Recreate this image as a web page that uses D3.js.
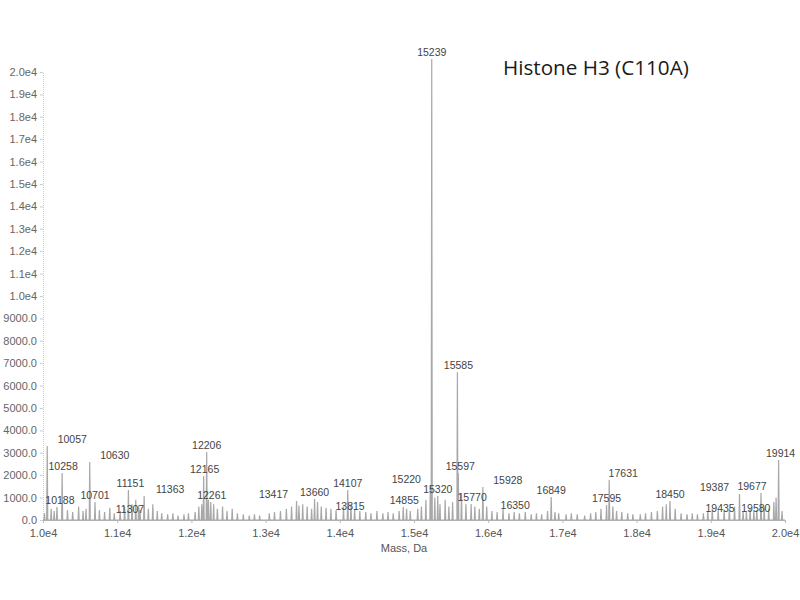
<!DOCTYPE html>
<html>
<head>
<script src="https://cdnjs.cloudflare.com/ajax/libs/d3/7.8.5/d3.min.js"></script>
<style>
  body { margin: 0; background: #fff; }
  svg text { font-family: Arial, "Liberation Sans", sans-serif; }
</style>
</head>
<body>
<div id="chart"></div>
<script>
// labelled peaks: mass (Da) and intensity (counts)
const peakMass = [10057, 10188, 10258, 10630, 10701, 11151, 11307, 11363, 12165, 12206, 12261,
  13417, 13660, 13815, 14107, 14855, 15220, 15239, 15320, 15585, 15597, 15770, 15928, 16350,
  16849, 17595, 17631, 18450, 19387, 19435, 19580, 19677, 19914];
const peakIntensity = [3300, 580, 2100, 2590, 800, 1340, 450, 1070, 1960, 3040, 800,
  850, 940, 550, 1340, 580, 1520, 20580, 1070, 6600, 2100, 710, 1470, 360,
  1030, 670, 1790, 850, 1160, 400, 400, 1200, 2680];

// label nudges (px) where the instrument software moved a label off its peak
const labelNudge = [[25, 0], [3, 0], [1, 0], [25, 0], [0, 0], [2, 0], [-10, 6], [26, 0], [1, 0], [0, 0], [1, 0],
  [-23, 0], [0, 0], [24, 5], [0, 0], [1, 0], [-24, 0], [0, 0], [0, 0], [1, 0], [2, 0], [1, 0], [25, 0], [1, 0],
  [0, 0], [0, 0], [14, 0], [0, 0], [-25, 0], [-23, 4], [2, 4], [-9, 0], [2, 0]];

// unlabelled small peaks along the baseline
const minorMass = [10020, 10110, 10150, 10330, 10400, 10480, 10540, 10580, 10760, 10830, 10900, 10960,
  11040, 11100, 11200, 11250, 11290, 11420, 11480, 11540, 11600, 11680, 11750, 11820, 11900, 11960,
  12050, 12100, 12140, 12230, 12300, 12350, 12420, 12480, 12550, 12620, 12700, 12780, 12850, 12920,
  13050, 13120, 13200, 13280, 13350, 13450, 13500, 13560, 13620, 13700, 13750, 13880, 13950,
  14050, 14150, 14200, 14270, 14350, 14420, 14500, 14580, 14650, 14720, 14800, 14900, 14950,
  15050, 15100, 15160, 15280, 15350, 15420, 15470, 15520, 15640, 15700, 15820, 15880, 15980,
  16050, 16120, 16200, 16280, 16420, 16500, 16580, 16650, 16720, 16800, 16900, 16950,
  17050, 17120, 17200, 17300, 17380, 17450, 17520, 17680, 17730, 17800, 17880, 17950,
  18050, 18120, 18200, 18280, 18350, 18400, 18520, 18600, 18680, 18750, 18820, 18900, 18960,
  19020, 19100, 19180, 19250, 19320, 19480, 19530, 19620, 19720, 19780, 19850, 19880, 19960];
const minorIntensity = [300, 500, 400, 450, 350, 600, 400, 500, 450, 350, 550, 300,
  400, 600, 700, 900, 650, 500, 700, 400, 300, 250, 300, 200, 250, 300,
  350, 600, 700, 900, 700, 500, 600, 400, 500, 300, 250, 200, 250, 200,
  300, 350, 400, 500, 600, 650, 700, 600, 500, 800, 600, 500, 450,
  600, 700, 500, 400, 350, 300, 400, 300, 350, 300, 400, 500, 400,
  500, 600, 900, 1000, 700, 900, 600, 800, 1200, 700, 600, 500, 600,
  400, 350, 500, 300, 300, 350, 250, 300, 250, 400, 350, 300,
  250, 300, 250, 200, 300, 350, 500, 600, 400, 350, 300, 250,
  250, 300, 350, 400, 600, 700, 500, 300, 250, 300, 250, 300, 400,
  500, 450, 400, 500, 600, 400, 500, 450, 600, 500, 800, 1000, 400];

const xTicks = [10000, 11000, 12000, 13000, 14000, 15000, 16000, 17000, 18000, 19000, 20000];
const yTicks = d3.range(0, 20001, 1000);
const title = "Histone H3 (C110A)";
const xTitle = "Mass, Da";

const W = 800, H = 600;
const svg = d3.select("#chart").append("svg")
  .attr("width", W).attr("height", H)
  .style("background", "#fff");

const x = d3.scaleLinear().domain([10000, 20000]).range([43, 785]);
const y = d3.scaleLinear().domain([0, 20000]).range([520, 72]);

// y axis
const yFmt = v => v >= 10000 ? (v / 10000).toFixed(1) + "e4" : v.toFixed(1);
const yAxis = svg.append("g")
  .attr("transform", `translate(${x(10000)},0)`)
  .call(d3.axisLeft(y).tickValues(yTicks).tickFormat(yFmt).tickSize(3).tickPadding(3))
  .call(g => g.select(".domain").attr("stroke", "#ccc").attr("stroke-dasharray", "1,1"));
yAxis.selectAll(".tick line").attr("stroke", "#ccc");
yAxis.selectAll("text").attr("fill", "#666").style("font-size", "11px");

// x axis
const xAxis = svg.append("g")
  .attr("transform", `translate(0,${y(0)})`)
  .call(d3.axisBottom(x).tickValues(xTicks).tickFormat(v => (v / 10000).toFixed(1) + "e4").tickSize(3).tickPadding(6))
  .call(g => g.select(".domain").attr("stroke", "#bbb"));
xAxis.selectAll(".tick line").attr("stroke", "#bbb");
xAxis.selectAll("text").attr("fill", "#555").style("font-size", "11px");

svg.append("text")
  .attr("x", (x(10000) + x(20000)) / 2 - 10).attr("y", 552)
  .attr("text-anchor", "middle")
  .attr("fill", "#555").style("font-size", "11px")
  .text(xTitle);

// spectrum as a profile: each peak is a narrow spike from the baseline
const peaks = peakMass.map((m, i) => ({ m, v: peakIntensity[i] }))
  .concat(minorMass.map((m, i) => ({ m, v: minorIntensity[i] })))
  .sort((a, b) => a.m - b.m);
const pts = [[10000, 0]];
peaks.forEach(p => { pts.push([p.m - 7, 0], [p.m, p.v], [p.m + 7, 0]); });
pts.push([20000, 0]);

const line = d3.line().x(d => x(d[0])).y(d => y(d[1]));
svg.append("path")
  .datum(pts)
  .attr("d", line)
  .attr("fill", "none")
  .attr("stroke", "#a8a8a8")
  .attr("stroke-width", 1.2);

// peak labels
svg.append("g")
  .selectAll("text")
  .data(peakMass)
  .join("text")
    .attr("x", (m, i) => x(m) + labelNudge[i][0])
    .attr("y", (m, i) => y(peakIntensity[i]) - 3 + labelNudge[i][1])
    .attr("text-anchor", "middle")
    .attr("fill", "#444")
    .style("font-size", "10.5px")
    .text(m => m);

// title
const t = svg.append("text")
  .attr("x", 503).attr("y", 75)
  .attr("fill", "#1a1a1a")
  .style("font-family", "'Open Sans', 'Noto Sans', sans-serif")
  .style("font-size", "20px")
  .text(title);
const tw = t.node().getComputedTextLength();
t.style("font-size", (20 * 186 / tw) + "px");
</script>
</body>
</html>
